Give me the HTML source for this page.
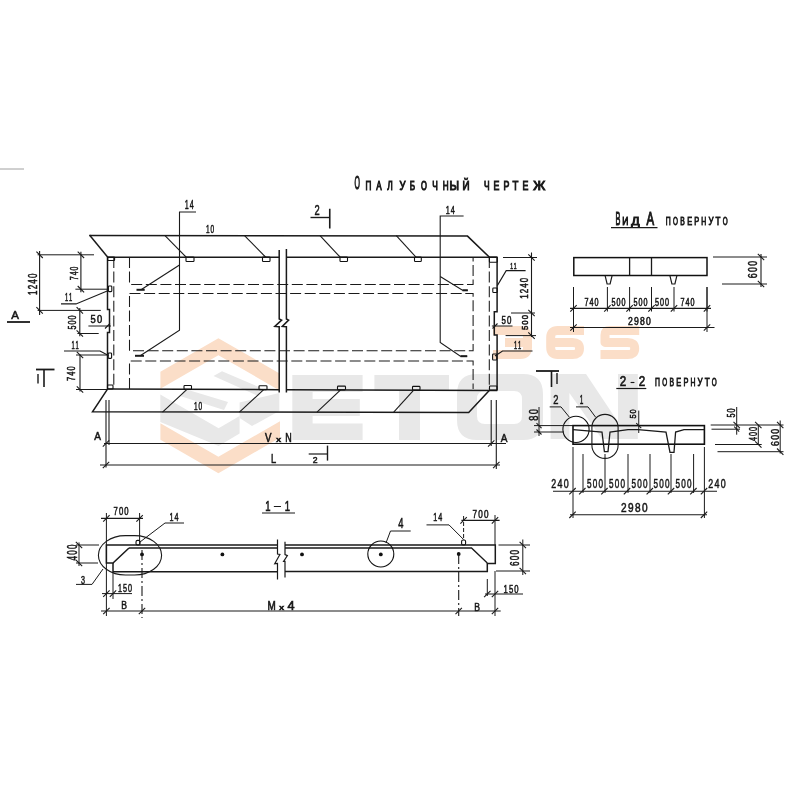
<!DOCTYPE html>
<html><head><meta charset="utf-8"><style>
html,body{margin:0;padding:0;background:#fff;width:800px;height:800px;overflow:hidden}
svg{display:block;will-change:transform}
text{font-family:"Liberation Sans",sans-serif;fill:#111}
</style></head><body>
<svg width="800" height="800" viewBox="0 0 800 800">
<rect width="800" height="800" fill="#fff"/>
<g><polygon points="160.4,371.7 218.4,338.2 280.0,373.7 280.0,390.7 218.4,355.2 160.4,388.7" fill="#fbdec8"/>
<polygon points="160.4,423.2 218.4,456.7 280.0,421.2 280.0,437.7 218.4,473.2 160.4,439.7" fill="#fbdec8"/>
<polygon points="160.3,394.5 218.6,428.2 239.6,416.1 239.6,433.5 218.6,446 160.3,422" fill="#e8e8e8"/>
<polygon points="239.6,402.5 279.3,393 279.3,411 252,426 239.6,418" fill="#e8e8e8"/>
<polygon points="222,371.3 261,388 258,396 213.5,376" fill="#e8e8e8"/>
<polygon points="185,389 228,402 224,410 180,396" fill="#e8e8e8"/>
<path d="M292.3,375 H362.6 V392 H312.6 V399 H359.8 V416 H312.6 V423.5 H362.6 V440 H292.3 Z" fill="#e8e8e8"/>
<path d="M374.4,375 H449 V391 H420 V440 H399 V391 H374.4 Z" fill="#e8e8e8"/>
<path fill-rule="evenodd" d="M477,374 H523 Q543,374 543,394 V420 Q543,440 523,440 H477 Q457,440 457,420 V394 Q457,374 477,374 Z M485,391 H514 Q522,391 522,399 V416 Q522,424 514,424 H485 Q477,424 477,416 V399 Q477,391 485,391 Z" fill="#e8e8e8"/>
<polygon points="550.6,374 586,374 618,422 618,374 637.8,374 637.8,439 602,439 569.4,393 569.4,439 550.6,439" fill="#e8e8e8"/>
<path d="M493,330.4 H520.5 Q527.5,330.4 527.5,337.4 V347.6 Q527.5,354.6 520.5,354.6 H493 M505,342.6 H527.5" fill="none" stroke="#fbdec8" stroke-width="9" stroke-linejoin="round"/>
<path d="M584,330.4 H557.7 Q550.7,330.4 550.7,337.4 V347.6 Q550.7,354.6 557.7,354.6 H572.5 Q579.5,354.6 579.5,348.5 Q579.5,342.4 572.5,342.4 H550.7" fill="none" stroke="#fbdec8" stroke-width="9" stroke-linejoin="round"/>
<path d="M639.2,330.4 H609.5 Q605,330.4 605,334.9 V342.4 H627.7 Q634.7,342.4 634.7,348.5 Q634.7,354.6 627.7,354.6 H600.5" fill="none" stroke="#fbdec8" stroke-width="9" stroke-linejoin="round"/></g>
<g stroke-linecap="butt"><text transform="translate(357.20,189.40) scale(0.399,1)" x="0" y="0" font-size="17.44" text-anchor="middle" font-weight="normal" style="stroke:#1a1a1a;stroke-width:1.10px">О</text>
<text transform="translate(368.50,189.50) scale(0.678,1)" x="0" y="0" font-size="12.06" text-anchor="middle" font-weight="normal" style="stroke:#1a1a1a;stroke-width:1.00px">П</text>
<text transform="translate(379.00,189.50) scale(0.675,1)" x="0" y="0" font-size="12.06" text-anchor="middle" font-weight="normal" style="stroke:#1a1a1a;stroke-width:1.00px">А</text>
<text transform="translate(390.00,189.50) scale(0.695,1)" x="0" y="0" font-size="12.06" text-anchor="middle" font-weight="normal" style="stroke:#1a1a1a;stroke-width:1.00px">Л</text>
<text transform="translate(402.50,189.50) scale(0.784,1)" x="0" y="0" font-size="12.06" text-anchor="middle" font-weight="normal" style="stroke:#1a1a1a;stroke-width:1.00px">У</text>
<text transform="translate(412.50,189.50) scale(0.678,1)" x="0" y="0" font-size="12.06" text-anchor="middle" font-weight="normal" style="stroke:#1a1a1a;stroke-width:1.00px">Б</text>
<text transform="translate(424.00,189.50) scale(0.627,1)" x="0" y="0" font-size="12.06" text-anchor="middle" font-weight="normal" style="stroke:#1a1a1a;stroke-width:1.00px">О</text>
<text transform="translate(435.00,189.50) scale(0.694,1)" x="0" y="0" font-size="12.06" text-anchor="middle" font-weight="normal" style="stroke:#1a1a1a;stroke-width:1.00px">Ч</text>
<text transform="translate(445.80,189.50) scale(0.675,1)" x="0" y="0" font-size="12.06" text-anchor="middle" font-weight="normal" style="stroke:#1a1a1a;stroke-width:1.00px">Н</text>
<text transform="translate(454.25,189.50) scale(0.896,1)" x="0" y="0" font-size="12.06" text-anchor="middle" font-weight="normal" style="stroke:#1a1a1a;stroke-width:1.00px">Ы</text>
<text transform="translate(466.00,189.50) scale(0.814,1)" x="0" y="0" font-size="12.06" text-anchor="middle" font-weight="normal" style="stroke:#1a1a1a;stroke-width:1.00px">Й</text>
<text transform="translate(486.75,189.50) scale(0.694,1)" x="0" y="0" font-size="12.06" text-anchor="middle" font-weight="normal" style="stroke:#1a1a1a;stroke-width:1.00px">Ч</text>
<text transform="translate(496.50,189.50) scale(0.731,1)" x="0" y="0" font-size="12.06" text-anchor="middle" font-weight="normal" style="stroke:#1a1a1a;stroke-width:1.00px">Е</text>
<text transform="translate(506.40,189.50) scale(0.731,1)" x="0" y="0" font-size="12.06" text-anchor="middle" font-weight="normal" style="stroke:#1a1a1a;stroke-width:1.00px">Р</text>
<text transform="translate(515.50,189.50) scale(0.798,1)" x="0" y="0" font-size="12.06" text-anchor="middle" font-weight="normal" style="stroke:#1a1a1a;stroke-width:1.00px">Т</text>
<text transform="translate(525.50,189.50) scale(0.731,1)" x="0" y="0" font-size="12.06" text-anchor="middle" font-weight="normal" style="stroke:#1a1a1a;stroke-width:1.00px">Е</text>
<text transform="translate(539.25,189.50) scale(1.079,1)" x="0" y="0" font-size="12.06" text-anchor="middle" font-weight="normal" style="stroke:#1a1a1a;stroke-width:1.00px">Ж</text>
<polyline points="89.5,235 107.8,257.3" fill="none" stroke="#1a1a1a" stroke-width="1.5"/>
<polyline points="89.5,235.5 467.5,236.1 489.5,257.3" fill="none" stroke="#1a1a1a" stroke-width="1.5"/>
<line x1="107.5" y1="257.3" x2="279.2" y2="257.3" stroke="#1a1a1a" stroke-width="1.5"/>
<line x1="286.4" y1="257.3" x2="497.5" y2="257.3" stroke="#1a1a1a" stroke-width="1.5"/>
<line x1="107.5" y1="389.1" x2="279.2" y2="389.7" stroke="#1a1a1a" stroke-width="1.5"/>
<line x1="286.4" y1="389.7" x2="497.3" y2="390.4" stroke="#1a1a1a" stroke-width="1.5"/>
<polyline points="107.5,389.1 92.5,411.8 468.7,412.4 489.5,390.3" fill="none" stroke="#1a1a1a" stroke-width="1.5"/>
<polyline points="107.5,257 107.5,309.5 109.5,309.5 109.5,332.5 107.5,332.5 107.5,389" fill="none" stroke="#1a1a1a" stroke-width="1.5"/>
<polyline points="497.1,257.3 497.1,311.8 494.3,311.8 494.3,335 497.1,335 497.1,390.4" fill="none" stroke="#1a1a1a" stroke-width="1.5"/>
<polyline points="279.2,250 279.2,319 281.6,320.1 274.8,326.4 279.2,326.7 279.2,392.5" fill="none" stroke="#1a1a1a" stroke-width="1.5"/>
<polyline points="286.4,249 286.4,319 288.6,320.1 282.3,326.4 286.4,326.7 286.4,392.5" fill="none" stroke="#1a1a1a" stroke-width="1.5"/>
<line x1="113.8" y1="257" x2="113.8" y2="389" stroke="#1a1a1a" stroke-width="1.05" stroke-dasharray="11,3.6"/>
<line x1="489.3" y1="257" x2="489.3" y2="389" stroke="#1a1a1a" stroke-width="1.05" stroke-dasharray="11,3.6"/>
<polyline points="129.5,257 129.5,284.5 473.1,284.5 473.1,257" fill="none" stroke="#1a1a1a" stroke-width="1.05" stroke-dasharray="11,3.6"/>
<polyline points="129.5,293.5 473.1,293.5 473.1,350.8 129.5,350.8 129.5,293.5" fill="none" stroke="#1a1a1a" stroke-width="1.05" stroke-dasharray="11,3.6"/>
<polyline points="129.5,389 129.5,361 473.1,361 473.1,389" fill="none" stroke="#1a1a1a" stroke-width="1.05" stroke-dasharray="11,3.6"/>
<rect x="107.7" y="257" width="6.8999999999999915" height="3.5" rx="0.8" fill="none" stroke="#111" stroke-width="1.1"/>
<rect x="489.4" y="257" width="7.900000000000034" height="5.300000000000011" rx="0.8" fill="none" stroke="#111" stroke-width="1.1"/>
<rect x="107.5" y="385" width="5.5" height="4" rx="0.8" fill="none" stroke="#111" stroke-width="1.1"/>
<rect x="489.5" y="386" width="7.5" height="4" rx="0.8" fill="none" stroke="#111" stroke-width="1.1"/>
<rect x="108.4" y="286" width="3.3999999999999915" height="5.600000000000023" rx="0.8" fill="none" stroke="#111" stroke-width="1.1"/>
<rect x="108.2" y="353" width="3.3999999999999915" height="5.399999999999977" rx="0.8" fill="none" stroke="#111" stroke-width="1.1"/>
<rect x="492.8" y="288" width="4.399999999999977" height="4.5" rx="0.8" fill="none" stroke="#111" stroke-width="1.1"/>
<rect x="492.6" y="354" width="4.199999999999989" height="6" rx="0.8" fill="none" stroke="#111" stroke-width="1.1"/>
<rect x="186" y="257" width="8" height="4.5" rx="0.8" fill="none" stroke="#111" stroke-width="1.1"/>
<rect x="262.5" y="257" width="7.5" height="4.5" rx="0.8" fill="none" stroke="#111" stroke-width="1.1"/>
<rect x="340" y="257" width="7.5" height="4.5" rx="0.8" fill="none" stroke="#111" stroke-width="1.1"/>
<rect x="414.5" y="257" width="6.800000000000011" height="4.5" rx="0.8" fill="none" stroke="#111" stroke-width="1.1"/>
<rect x="184" y="385.55780500000003" width="7.5" height="3.8000000000000114" rx="0.8" fill="none" stroke="#111" stroke-width="1.1"/>
<rect x="259" y="385.810555" width="8" height="3.8000000000000114" rx="0.8" fill="none" stroke="#111" stroke-width="1.1"/>
<rect x="337.5" y="386.0751" width="8.0" height="3.8000000000000114" rx="0.8" fill="none" stroke="#111" stroke-width="1.1"/>
<rect x="412.5" y="386.32785" width="7.5" height="3.8000000000000114" rx="0.8" fill="none" stroke="#111" stroke-width="1.1"/>
<line x1="165" y1="235.6" x2="186.5" y2="257.5" stroke="#1a1a1a" stroke-width="1.1"/>
<line x1="244.5" y1="235.6" x2="266" y2="257.5" stroke="#1a1a1a" stroke-width="1.1"/>
<line x1="320" y1="235.6" x2="340.5" y2="257.5" stroke="#1a1a1a" stroke-width="1.1"/>
<line x1="396.3" y1="235.6" x2="416.3" y2="257.5" stroke="#1a1a1a" stroke-width="1.1"/>
<line x1="162.5" y1="412.2" x2="187" y2="389.36791500000004" stroke="#1a1a1a" stroke-width="1.1"/>
<line x1="239.4" y1="412.2" x2="263.7" y2="389.626394" stroke="#1a1a1a" stroke-width="1.1"/>
<line x1="317" y1="412.2" x2="340.6" y2="389.88554700000003" stroke="#1a1a1a" stroke-width="1.1"/>
<line x1="393.7" y1="412.2" x2="413.7" y2="390.13189400000005" stroke="#1a1a1a" stroke-width="1.1"/>
<text transform="translate(210.00,229.50) scale(0.594,1)" x="-3.79 3.79" y="3.75" font-size="10.90" text-anchor="middle" font-weight="normal" style="stroke:#1a1a1a;stroke-width:0.55px">10</text>
<text transform="translate(198.00,406.00) scale(0.594,1)" x="-3.79 3.79" y="3.75" font-size="10.90" text-anchor="middle" font-weight="normal" style="stroke:#1a1a1a;stroke-width:0.55px">10</text>
<polyline points="196,212 179.5,212 179.5,330.2 140.2,355.7" fill="none" stroke="#1a1a1a" stroke-width="1.1"/>
<line x1="179.5" y1="265" x2="141" y2="289.7" stroke="#1a1a1a" stroke-width="1.1"/>
<line x1="136.5" y1="289.8" x2="144.7" y2="289.8" stroke="#1a1a1a" stroke-width="2"/>
<line x1="135" y1="355.8" x2="144" y2="355.8" stroke="#1a1a1a" stroke-width="2"/>
<text transform="translate(189.20,204.80) scale(0.550,1)" x="-4.55 4.55" y="4.50" font-size="13.08" text-anchor="middle" font-weight="normal" style="stroke:#1a1a1a;stroke-width:0.55px">14</text>
<polyline points="463.6,216 440.2,216 440.2,342.4 460.4,356.2 467.2,356.2" fill="none" stroke="#1a1a1a" stroke-width="1.1"/>
<polyline points="440.2,276.5 462.5,290.3 467.8,290.3" fill="none" stroke="#1a1a1a" stroke-width="1.1"/>
<line x1="460.5" y1="356.2" x2="467.2" y2="356.2" stroke="#1a1a1a" stroke-width="2"/>
<line x1="462.5" y1="290.3" x2="467.8" y2="290.3" stroke="#1a1a1a" stroke-width="2"/>
<text transform="translate(450.30,209.50) scale(0.619,1)" x="-4.04 4.04" y="4.00" font-size="11.63" text-anchor="middle" font-weight="normal" style="stroke:#1a1a1a;stroke-width:0.55px">14</text>
<text transform="translate(317.00,210.10) scale(0.657,1)" x="0.00" y="4.90" font-size="14.24" text-anchor="middle" font-weight="normal" style="stroke:#1a1a1a;stroke-width:0.55px">2</text>
<line x1="310.5" y1="217.5" x2="330" y2="217.5" stroke="#1a1a1a" stroke-width="1.4"/>
<line x1="329.75" y1="208.75" x2="329.75" y2="228.5" stroke="#1a1a1a" stroke-width="1.6"/>
<line x1="36" y1="369.5" x2="54.5" y2="369.5" stroke="#1a1a1a" stroke-width="1.8"/>
<line x1="44" y1="369.5" x2="44" y2="387" stroke="#1a1a1a" stroke-width="1.6"/>
<line x1="38" y1="374" x2="38" y2="383.5" stroke="#1a1a1a" stroke-width="1.4"/>
<line x1="536" y1="371" x2="559" y2="371" stroke="#1a1a1a" stroke-width="1.8"/>
<line x1="551.5" y1="371" x2="551.5" y2="387" stroke="#1a1a1a" stroke-width="1.6"/>
<line x1="557" y1="373" x2="557" y2="384" stroke="#1a1a1a" stroke-width="1.4"/>
<line x1="39.6" y1="251" x2="39.6" y2="315" stroke="#1a1a1a" stroke-width="1.1"/>
<line x1="37.6" y1="254.8" x2="94" y2="254.8" stroke="#1a1a1a" stroke-width="1.0"/>
<line x1="37.6" y1="310.4" x2="100.8" y2="310.4" stroke="#1a1a1a" stroke-width="1.0"/>
<line x1="36.4" y1="251.60000000000002" x2="42.800000000000004" y2="258.0" stroke="#1a1a1a" stroke-width="1.1"/>
<line x1="36.4" y1="307.2" x2="42.800000000000004" y2="313.59999999999997" stroke="#1a1a1a" stroke-width="1.1"/>
<text transform="translate(32.50,284.30) rotate(-90) scale(0.679,1)" x="-12.43 -4.14 4.14 12.43" y="4.10" font-size="11.92" text-anchor="middle" font-weight="normal" style="stroke:#1a1a1a;stroke-width:0.55px">1240</text>
<line x1="80.9" y1="251.7" x2="80.9" y2="292.2" stroke="#1a1a1a" stroke-width="1.1"/>
<line x1="75.4" y1="289.2" x2="108" y2="289.2" stroke="#1a1a1a" stroke-width="1.0"/>
<line x1="77.7" y1="251.60000000000002" x2="84.10000000000001" y2="258.0" stroke="#1a1a1a" stroke-width="1.1"/>
<line x1="77.7" y1="286.0" x2="84.10000000000001" y2="292.4" stroke="#1a1a1a" stroke-width="1.1"/>
<text transform="translate(73.60,273.40) rotate(-90) scale(0.598,1)" x="-8.08 0.00 8.08" y="4.00" font-size="11.63" text-anchor="middle" font-weight="normal" style="stroke:#1a1a1a;stroke-width:0.55px">740</text>
<text transform="translate(68.50,297.80) scale(0.566,1)" x="-3.54 3.54" y="3.50" font-size="10.17" text-anchor="middle" font-weight="normal" style="stroke:#1a1a1a;stroke-width:0.55px">11</text>
<polyline points="61,303.9 76,303.9 109,290.2" fill="none" stroke="#1a1a1a" stroke-width="1.1"/>
<line x1="79.8" y1="308" x2="79.8" y2="336.2" stroke="#1a1a1a" stroke-width="1.1"/>
<line x1="77.4" y1="333.5" x2="98.7" y2="333.5" stroke="#1a1a1a" stroke-width="1.0"/>
<line x1="76.6" y1="307.2" x2="83.0" y2="313.59999999999997" stroke="#1a1a1a" stroke-width="1.1"/>
<line x1="76.6" y1="330.3" x2="83.0" y2="336.7" stroke="#1a1a1a" stroke-width="1.1"/>
<text transform="translate(72.25,322.50) rotate(-90) scale(0.660,1)" x="-7.58 0.00 7.58" y="3.75" font-size="10.90" text-anchor="middle" font-weight="normal" style="stroke:#1a1a1a;stroke-width:0.55px">500</text>
<text transform="translate(96.30,319.80) scale(0.919,1)" x="-3.54 3.54" y="3.50" font-size="10.17" text-anchor="middle" font-weight="normal" style="stroke:#1a1a1a;stroke-width:0.55px">50</text>
<line x1="88.4" y1="326" x2="111" y2="326" stroke="#1a1a1a" stroke-width="1.0"/>
<line x1="105.0" y1="328.5" x2="110.0" y2="323.5" stroke="#1a1a1a" stroke-width="1.1"/>
<text transform="translate(75.00,345.00) scale(0.566,1)" x="-3.54 3.54" y="3.50" font-size="10.17" text-anchor="middle" font-weight="normal" style="stroke:#1a1a1a;stroke-width:0.55px">11</text>
<polyline points="64,351 100,351 108.5,355.5" fill="none" stroke="#1a1a1a" stroke-width="1.1"/>
<line x1="80" y1="354.5" x2="80" y2="391.5" stroke="#1a1a1a" stroke-width="1.1"/>
<line x1="76" y1="355" x2="108" y2="355" stroke="#1a1a1a" stroke-width="1.0"/>
<line x1="76" y1="389.5" x2="108" y2="389.5" stroke="#1a1a1a" stroke-width="1.0"/>
<line x1="76.8" y1="351.8" x2="83.2" y2="358.2" stroke="#1a1a1a" stroke-width="1.1"/>
<line x1="76.8" y1="386.3" x2="83.2" y2="392.7" stroke="#1a1a1a" stroke-width="1.1"/>
<text transform="translate(71.00,373.70) rotate(-90) scale(0.682,1)" x="-7.58 0.00 7.58" y="3.75" font-size="10.90" text-anchor="middle" font-weight="normal" style="stroke:#1a1a1a;stroke-width:0.55px">740</text>
<text transform="translate(15.00,315.00) scale(0.990,1)" x="0.00" y="4.00" font-size="11.63" text-anchor="middle" font-weight="normal" style="stroke:#1a1a1a;stroke-width:0.55px">A</text>
<line x1="7" y1="322" x2="30" y2="322" stroke="#1a1a1a" stroke-width="1.8"/>
<line x1="531.5" y1="252.5" x2="531.5" y2="337" stroke="#1a1a1a" stroke-width="1.1"/>
<line x1="503" y1="257.5" x2="537" y2="257.5" stroke="#1a1a1a" stroke-width="1.0"/>
<line x1="511" y1="313" x2="535" y2="313" stroke="#1a1a1a" stroke-width="1.0"/>
<line x1="505.6" y1="335.6" x2="536" y2="335.6" stroke="#1a1a1a" stroke-width="1.0"/>
<line x1="528.3" y1="254.3" x2="534.7" y2="260.7" stroke="#1a1a1a" stroke-width="1.1"/>
<line x1="528.3" y1="309.8" x2="534.7" y2="316.2" stroke="#1a1a1a" stroke-width="1.1"/>
<line x1="528.3" y1="332.40000000000003" x2="534.7" y2="338.8" stroke="#1a1a1a" stroke-width="1.1"/>
<text transform="translate(524.70,288.40) rotate(-90) scale(0.726,1)" x="-11.36 -3.79 3.79 11.36" y="3.75" font-size="10.90" text-anchor="middle" font-weight="normal" style="stroke:#1a1a1a;stroke-width:0.55px">1240</text>
<text transform="translate(524.75,322.50) rotate(-90) scale(0.880,1)" x="-6.06 0.00 6.06" y="3.00" font-size="8.72" text-anchor="middle" font-weight="normal" style="stroke:#1a1a1a;stroke-width:0.55px">500</text>
<text transform="translate(506.50,320.60) scale(0.726,1)" x="-3.79 3.79" y="3.75" font-size="10.90" text-anchor="middle" font-weight="normal" style="stroke:#1a1a1a;stroke-width:0.55px">50</text>
<line x1="491.9" y1="326" x2="512.5" y2="326" stroke="#1a1a1a" stroke-width="1.0"/>
<line x1="492.5" y1="328.5" x2="497.5" y2="323.5" stroke="#1a1a1a" stroke-width="1.1"/>
<text transform="translate(513.50,265.50) scale(0.577,1)" x="-3.03 3.03" y="3.00" font-size="8.72" text-anchor="middle" font-weight="normal" style="stroke:#1a1a1a;stroke-width:0.55px">11</text>
<polyline points="525.6,270.6 506.2,270.6 497.3,285.6" fill="none" stroke="#1a1a1a" stroke-width="1.1"/>
<text transform="translate(517.50,345.00) scale(0.566,1)" x="-3.54 3.54" y="3.50" font-size="10.17" text-anchor="middle" font-weight="normal" style="stroke:#1a1a1a;stroke-width:0.55px">11</text>
<polyline points="532.5,351 502.5,351 495,356" fill="none" stroke="#1a1a1a" stroke-width="1.1"/>
<line x1="106" y1="400" x2="106" y2="467.5" stroke="#1a1a1a" stroke-width="1.1"/>
<line x1="109" y1="400" x2="109" y2="445" stroke="#1a1a1a" stroke-width="1.1"/>
<line x1="104" y1="443.5" x2="506" y2="443.5" stroke="#1a1a1a" stroke-width="1.1"/>
<line x1="100" y1="465" x2="500" y2="465" stroke="#1a1a1a" stroke-width="1.1"/>
<line x1="491.2" y1="400" x2="491.2" y2="446" stroke="#1a1a1a" stroke-width="1.1"/>
<line x1="496.3" y1="400" x2="496.3" y2="469" stroke="#1a1a1a" stroke-width="1.1"/>
<line x1="102.8" y1="446.7" x2="109.2" y2="440.3" stroke="#1a1a1a" stroke-width="1.1"/>
<line x1="488.0" y1="446.7" x2="494.4" y2="440.3" stroke="#1a1a1a" stroke-width="1.1"/>
<line x1="102.8" y1="468.2" x2="109.2" y2="461.8" stroke="#1a1a1a" stroke-width="1.1"/>
<line x1="493.1" y1="468.2" x2="499.5" y2="461.8" stroke="#1a1a1a" stroke-width="1.1"/>
<text transform="translate(97.50,436.00) scale(0.866,1)" x="0.00" y="4.00" font-size="11.63" text-anchor="middle" font-weight="normal" style="stroke:#1a1a1a;stroke-width:0.55px">A</text>
<text transform="translate(504.00,437.50) scale(0.866,1)" x="0.00" y="4.00" font-size="11.63" text-anchor="middle" font-weight="normal" style="stroke:#1a1a1a;stroke-width:0.55px">A</text>
<text transform="translate(268.30,441.90) scale(0.710,1)" x="0" y="0" font-size="13.66" text-anchor="middle" font-weight="normal" style="stroke:#1a1a1a;stroke-width:0.70px">V</text>
<text transform="translate(278.70,441.90) scale(1.191,1)" x="0" y="0" font-size="7.99" text-anchor="middle" font-weight="normal" style="stroke:#1a1a1a;stroke-width:0.70px">x</text>
<text transform="translate(288.60,441.90) scale(0.656,1)" x="0" y="0" font-size="13.66" text-anchor="middle" font-weight="normal" style="stroke:#1a1a1a;stroke-width:0.70px">N</text>
<text transform="translate(273.70,458.50) scale(0.692,1)" x="0.00" y="4.65" font-size="13.52" text-anchor="middle" font-weight="normal" style="stroke:#1a1a1a;stroke-width:0.55px">L</text>
<text transform="translate(315.20,460.00) scale(0.914,1)" x="0.00" y="3.25" font-size="9.45" text-anchor="middle" font-weight="normal" style="stroke:#1a1a1a;stroke-width:0.55px">2</text>
<line x1="308.7" y1="454" x2="327.5" y2="454" stroke="#1a1a1a" stroke-width="1.2"/>
<line x1="327.5" y1="445.6" x2="327.5" y2="460.6" stroke="#1a1a1a" stroke-width="1.4"/>
<text transform="translate(617.90,225.10) scale(0.388,1)" x="0" y="0" font-size="18.90" text-anchor="middle" font-weight="normal" style="stroke:#1a1a1a;stroke-width:1.10px">В</text>
<text transform="translate(625.40,225.10) scale(0.732,1)" x="0" y="0" font-size="11.63" text-anchor="middle" font-weight="normal" style="stroke:#1a1a1a;stroke-width:1.00px">И</text>
<text transform="translate(635.40,225.10) scale(1.065,1)" x="0" y="0" font-size="11.63" text-anchor="middle" font-weight="normal" style="stroke:#1a1a1a;stroke-width:1.00px">Д</text>
<text transform="translate(650.30,225.10) scale(0.604,1)" x="0" y="0" font-size="18.90" text-anchor="middle" font-weight="normal" style="stroke:#1a1a1a;stroke-width:1.10px">А</text>
<text transform="translate(668.30,225.20) scale(0.676,1)" x="0" y="0" font-size="10.17" text-anchor="middle" font-weight="normal" style="stroke:#1a1a1a;stroke-width:0.80px">П</text>
<text transform="translate(675.40,225.20) scale(0.624,1)" x="0" y="0" font-size="10.17" text-anchor="middle" font-weight="normal" style="stroke:#1a1a1a;stroke-width:0.80px">О</text>
<text transform="translate(682.50,225.20) scale(0.672,1)" x="0" y="0" font-size="10.17" text-anchor="middle" font-weight="normal" style="stroke:#1a1a1a;stroke-width:0.80px">В</text>
<text transform="translate(689.60,225.20) scale(0.728,1)" x="0" y="0" font-size="10.17" text-anchor="middle" font-weight="normal" style="stroke:#1a1a1a;stroke-width:0.80px">Е</text>
<text transform="translate(696.70,225.20) scale(0.728,1)" x="0" y="0" font-size="10.17" text-anchor="middle" font-weight="normal" style="stroke:#1a1a1a;stroke-width:0.80px">Р</text>
<text transform="translate(703.80,225.20) scale(0.672,1)" x="0" y="0" font-size="10.17" text-anchor="middle" font-weight="normal" style="stroke:#1a1a1a;stroke-width:0.80px">Н</text>
<text transform="translate(710.90,225.20) scale(0.781,1)" x="0" y="0" font-size="10.17" text-anchor="middle" font-weight="normal" style="stroke:#1a1a1a;stroke-width:0.80px">У</text>
<text transform="translate(718.00,225.20) scale(0.795,1)" x="0" y="0" font-size="10.17" text-anchor="middle" font-weight="normal" style="stroke:#1a1a1a;stroke-width:0.80px">Т</text>
<text transform="translate(725.10,225.20) scale(0.624,1)" x="0" y="0" font-size="10.17" text-anchor="middle" font-weight="normal" style="stroke:#1a1a1a;stroke-width:0.80px">О</text>
<line x1="611" y1="227.6" x2="657.5" y2="227.6" stroke="#1a1a1a" stroke-width="1.2"/>
<rect x="573.8" y="257.6" width="133.20000000000005" height="17.899999999999977" rx="0" fill="none" stroke="#111" stroke-width="1.5"/>
<line x1="629.6" y1="257.6" x2="629.6" y2="275.5" stroke="#1a1a1a" stroke-width="1.3"/>
<line x1="651.5" y1="257.6" x2="651.5" y2="275.5" stroke="#1a1a1a" stroke-width="1.3"/>
<polyline points="605.1,275.6 607.1,284 610.1,284 612.1,275.6" fill="none" stroke="#1a1a1a" stroke-width="1.2"/>
<polyline points="669.9,275.6 671.9,284 674.9,284 676.9,275.6" fill="none" stroke="#1a1a1a" stroke-width="1.2"/>
<line x1="573.5" y1="287" x2="573.5" y2="311.5" stroke="#1a1a1a" stroke-width="1.0"/>
<line x1="570.3" y1="311.59999999999997" x2="576.7" y2="305.2" stroke="#1a1a1a" stroke-width="1.1"/>
<line x1="607.4" y1="287" x2="607.4" y2="311.5" stroke="#1a1a1a" stroke-width="1.0"/>
<line x1="604.1999999999999" y1="311.59999999999997" x2="610.6" y2="305.2" stroke="#1a1a1a" stroke-width="1.1"/>
<line x1="629.6" y1="287" x2="629.6" y2="311.5" stroke="#1a1a1a" stroke-width="1.0"/>
<line x1="626.4" y1="311.59999999999997" x2="632.8000000000001" y2="305.2" stroke="#1a1a1a" stroke-width="1.1"/>
<line x1="651.5" y1="287" x2="651.5" y2="311.5" stroke="#1a1a1a" stroke-width="1.0"/>
<line x1="648.3" y1="311.59999999999997" x2="654.7" y2="305.2" stroke="#1a1a1a" stroke-width="1.1"/>
<line x1="674" y1="287" x2="674" y2="311.5" stroke="#1a1a1a" stroke-width="1.0"/>
<line x1="670.8" y1="311.59999999999997" x2="677.2" y2="305.2" stroke="#1a1a1a" stroke-width="1.1"/>
<line x1="707" y1="287" x2="707" y2="311.5" stroke="#1a1a1a" stroke-width="1.0"/>
<line x1="703.8" y1="311.59999999999997" x2="710.2" y2="305.2" stroke="#1a1a1a" stroke-width="1.1"/>
<line x1="573.5" y1="332" x2="573.5" y2="287" stroke="#1a1a1a" stroke-width="1.0"/>
<line x1="707" y1="332" x2="707" y2="287" stroke="#1a1a1a" stroke-width="1.0"/>
<line x1="570" y1="308.4" x2="711" y2="308.4" stroke="#1a1a1a" stroke-width="1.1"/>
<line x1="570" y1="327.5" x2="714.5" y2="327.5" stroke="#1a1a1a" stroke-width="1.1"/>
<line x1="570.3" y1="330.7" x2="576.7" y2="324.3" stroke="#1a1a1a" stroke-width="1.1"/>
<line x1="703.8" y1="330.7" x2="710.2" y2="324.3" stroke="#1a1a1a" stroke-width="1.1"/>
<text transform="translate(591.50,302.00) scale(0.707,1)" x="-7.07 0.00 7.07" y="3.50" font-size="10.17" text-anchor="middle" font-weight="normal" style="stroke:#1a1a1a;stroke-width:0.55px">740</text>
<text transform="translate(618.50,302.00) scale(0.707,1)" x="-7.07 0.00 7.07" y="3.50" font-size="10.17" text-anchor="middle" font-weight="normal" style="stroke:#1a1a1a;stroke-width:0.55px">500</text>
<text transform="translate(640.40,302.00) scale(0.707,1)" x="-7.07 0.00 7.07" y="3.50" font-size="10.17" text-anchor="middle" font-weight="normal" style="stroke:#1a1a1a;stroke-width:0.55px">500</text>
<text transform="translate(662.00,302.00) scale(0.707,1)" x="-7.07 0.00 7.07" y="3.50" font-size="10.17" text-anchor="middle" font-weight="normal" style="stroke:#1a1a1a;stroke-width:0.55px">500</text>
<text transform="translate(687.50,302.00) scale(0.707,1)" x="-7.07 0.00 7.07" y="3.50" font-size="10.17" text-anchor="middle" font-weight="normal" style="stroke:#1a1a1a;stroke-width:0.55px">740</text>
<text transform="translate(639.50,321.50) scale(0.849,1)" x="-10.61 -3.54 3.54 10.61" y="3.50" font-size="10.17" text-anchor="middle" font-weight="normal" style="stroke:#1a1a1a;stroke-width:0.55px">2980</text>
<line x1="761" y1="254" x2="761" y2="287" stroke="#1a1a1a" stroke-width="1.1"/>
<line x1="713" y1="257" x2="767" y2="257" stroke="#1a1a1a" stroke-width="1.0"/>
<line x1="722" y1="284" x2="767" y2="284" stroke="#1a1a1a" stroke-width="1.0"/>
<line x1="757.8" y1="253.8" x2="764.2" y2="260.2" stroke="#1a1a1a" stroke-width="1.1"/>
<line x1="757.8" y1="280.8" x2="764.2" y2="287.2" stroke="#1a1a1a" stroke-width="1.1"/>
<text transform="translate(753.20,269.50) rotate(-90) scale(0.718,1)" x="-8.59 0.00 8.59" y="4.25" font-size="12.35" text-anchor="middle" font-weight="normal" style="stroke:#1a1a1a;stroke-width:0.55px">600</text>
<text transform="translate(623.00,386.30) scale(0.800,1)" x="0" y="0" font-size="14.53" text-anchor="middle" font-weight="normal" style="stroke:#1a1a1a;stroke-width:0.70px">2</text>
<text transform="translate(632.60,383.50) scale(1.823,1)" x="0" y="0" font-size="5.81" text-anchor="middle" font-weight="normal" style="stroke:#1a1a1a;stroke-width:0.70px">-</text>
<text transform="translate(642.00,386.30) scale(0.800,1)" x="0" y="0" font-size="14.53" text-anchor="middle" font-weight="normal" style="stroke:#1a1a1a;stroke-width:0.70px">2</text>
<text transform="translate(657.50,386.30) scale(0.631,1)" x="0" y="0" font-size="10.90" text-anchor="middle" font-weight="normal" style="stroke:#1a1a1a;stroke-width:0.80px">П</text>
<text transform="translate(664.60,386.30) scale(0.583,1)" x="0" y="0" font-size="10.90" text-anchor="middle" font-weight="normal" style="stroke:#1a1a1a;stroke-width:0.80px">О</text>
<text transform="translate(671.70,386.30) scale(0.628,1)" x="0" y="0" font-size="10.90" text-anchor="middle" font-weight="normal" style="stroke:#1a1a1a;stroke-width:0.80px">В</text>
<text transform="translate(678.80,386.30) scale(0.680,1)" x="0" y="0" font-size="10.90" text-anchor="middle" font-weight="normal" style="stroke:#1a1a1a;stroke-width:0.80px">Е</text>
<text transform="translate(685.90,386.30) scale(0.680,1)" x="0" y="0" font-size="10.90" text-anchor="middle" font-weight="normal" style="stroke:#1a1a1a;stroke-width:0.80px">Р</text>
<text transform="translate(693.00,386.30) scale(0.628,1)" x="0" y="0" font-size="10.90" text-anchor="middle" font-weight="normal" style="stroke:#1a1a1a;stroke-width:0.80px">Н</text>
<text transform="translate(700.10,386.30) scale(0.729,1)" x="0" y="0" font-size="10.90" text-anchor="middle" font-weight="normal" style="stroke:#1a1a1a;stroke-width:0.80px">У</text>
<text transform="translate(707.20,386.30) scale(0.742,1)" x="0" y="0" font-size="10.90" text-anchor="middle" font-weight="normal" style="stroke:#1a1a1a;stroke-width:0.80px">Т</text>
<text transform="translate(714.30,386.30) scale(0.583,1)" x="0" y="0" font-size="10.90" text-anchor="middle" font-weight="normal" style="stroke:#1a1a1a;stroke-width:0.80px">О</text>
<line x1="616.3" y1="388.5" x2="646.3" y2="388.5" stroke="#1a1a1a" stroke-width="1.2"/>
<rect x="573" y="425.6" width="131.39999999999998" height="18.599999999999966" rx="0" fill="none" stroke="#111" stroke-width="1.6"/>
<polyline points="573,429.6 602,432 604.4,451.6 608,451.6 610,432 628,429.6 638,429.6 666,432 670,452.4 674,452.4 675.6,432 684,429.6 704.4,429.6" fill="none" stroke="#1a1a1a" stroke-width="1.3"/>
<circle cx="576" cy="429.4" r="13.1" fill="none" stroke="#111" stroke-width="1.1"/>
<rect x="591.9" y="414.4" width="26.2" height="44" rx="13.1" fill="none" stroke="#1a1a1a" stroke-width="1.1"/>
<line x1="573" y1="447" x2="573" y2="518" stroke="#1a1a1a" stroke-width="1.0"/>
<line x1="583" y1="454" x2="583" y2="493" stroke="#1a1a1a" stroke-width="1.0"/>
<line x1="605" y1="454" x2="605" y2="493" stroke="#1a1a1a" stroke-width="1.0"/>
<line x1="628" y1="454" x2="628" y2="493" stroke="#1a1a1a" stroke-width="1.0"/>
<line x1="650" y1="454" x2="650" y2="493" stroke="#1a1a1a" stroke-width="1.0"/>
<line x1="671" y1="454" x2="671" y2="493" stroke="#1a1a1a" stroke-width="1.0"/>
<line x1="693.6" y1="454" x2="693.6" y2="493" stroke="#1a1a1a" stroke-width="1.0"/>
<line x1="704.4" y1="447" x2="704.4" y2="518" stroke="#1a1a1a" stroke-width="1.0"/>
<line x1="553" y1="491.2" x2="717" y2="491.2" stroke="#1a1a1a" stroke-width="1.1"/>
<line x1="569.3" y1="494.4" x2="575.7" y2="488.0" stroke="#1a1a1a" stroke-width="1.1"/>
<line x1="579.0999999999999" y1="494.4" x2="585.5" y2="488.0" stroke="#1a1a1a" stroke-width="1.1"/>
<line x1="601.1999999999999" y1="494.4" x2="607.6" y2="488.0" stroke="#1a1a1a" stroke-width="1.1"/>
<line x1="623.8" y1="494.4" x2="630.2" y2="488.0" stroke="#1a1a1a" stroke-width="1.1"/>
<line x1="646.5999999999999" y1="494.4" x2="653.0" y2="488.0" stroke="#1a1a1a" stroke-width="1.1"/>
<line x1="667.8" y1="494.4" x2="674.2" y2="488.0" stroke="#1a1a1a" stroke-width="1.1"/>
<line x1="690.1999999999999" y1="494.4" x2="696.6" y2="488.0" stroke="#1a1a1a" stroke-width="1.1"/>
<line x1="700.8" y1="494.4" x2="707.2" y2="488.0" stroke="#1a1a1a" stroke-width="1.1"/>
<text transform="translate(560.00,483.50) scale(0.678,1)" x="-9.09 0.00 9.09" y="4.50" font-size="13.08" text-anchor="middle" font-weight="normal" style="stroke:#1a1a1a;stroke-width:0.55px">240</text>
<text transform="translate(595.00,483.50) scale(0.623,1)" x="-9.09 0.00 9.09" y="4.50" font-size="13.08" text-anchor="middle" font-weight="normal" style="stroke:#1a1a1a;stroke-width:0.55px">500</text>
<text transform="translate(617.00,483.50) scale(0.623,1)" x="-9.09 0.00 9.09" y="4.50" font-size="13.08" text-anchor="middle" font-weight="normal" style="stroke:#1a1a1a;stroke-width:0.55px">500</text>
<text transform="translate(639.50,483.50) scale(0.623,1)" x="-9.09 0.00 9.09" y="4.50" font-size="13.08" text-anchor="middle" font-weight="normal" style="stroke:#1a1a1a;stroke-width:0.55px">500</text>
<text transform="translate(661.50,483.50) scale(0.623,1)" x="-9.09 0.00 9.09" y="4.50" font-size="13.08" text-anchor="middle" font-weight="normal" style="stroke:#1a1a1a;stroke-width:0.55px">500</text>
<text transform="translate(683.50,483.50) scale(0.623,1)" x="-9.09 0.00 9.09" y="4.50" font-size="13.08" text-anchor="middle" font-weight="normal" style="stroke:#1a1a1a;stroke-width:0.55px">500</text>
<text transform="translate(717.00,483.50) scale(0.678,1)" x="-9.09 0.00 9.09" y="4.50" font-size="13.08" text-anchor="middle" font-weight="normal" style="stroke:#1a1a1a;stroke-width:0.55px">240</text>
<line x1="570" y1="514.8" x2="707" y2="514.8" stroke="#1a1a1a" stroke-width="1.1"/>
<line x1="569.3" y1="518.0" x2="575.7" y2="511.59999999999997" stroke="#1a1a1a" stroke-width="1.1"/>
<line x1="700.8" y1="518.0" x2="707.2" y2="511.59999999999997" stroke="#1a1a1a" stroke-width="1.1"/>
<text transform="translate(634.40,508.00) scale(0.815,1)" x="-12.88 -4.29 4.29 12.88" y="4.25" font-size="12.35" text-anchor="middle" font-weight="normal" style="stroke:#1a1a1a;stroke-width:0.55px">2980</text>
<text transform="translate(555.80,399.40) scale(0.692,1)" x="0.00" y="4.65" font-size="13.52" text-anchor="middle" font-weight="normal" style="stroke:#1a1a1a;stroke-width:0.55px">2</text>
<polyline points="549.7,406.9 561,406.9 569.4,417.2" fill="none" stroke="#1a1a1a" stroke-width="1.0"/>
<text transform="translate(581.50,399.40) scale(0.479,1)" x="0.00" y="4.65" font-size="13.52" text-anchor="middle" font-weight="normal" style="stroke:#1a1a1a;stroke-width:0.55px">1</text>
<polyline points="576,406.9 588,406.9 595.6,417.2" fill="none" stroke="#1a1a1a" stroke-width="1.0"/>
<text transform="translate(533.00,415.00) rotate(-90) scale(0.715,1)" x="-4.55 4.55" y="4.50" font-size="13.08" text-anchor="middle" font-weight="normal" style="stroke:#1a1a1a;stroke-width:0.55px">80</text>
<line x1="534" y1="425.6" x2="573" y2="425.6" stroke="#1a1a1a" stroke-width="1.0"/>
<line x1="534" y1="432" x2="564" y2="432" stroke="#1a1a1a" stroke-width="1.0"/>
<line x1="539" y1="407" x2="539" y2="436" stroke="#1a1a1a" stroke-width="1.0"/>
<line x1="536.5" y1="423.1" x2="541.5" y2="428.1" stroke="#1a1a1a" stroke-width="1.1"/>
<line x1="536.5" y1="429.5" x2="541.5" y2="434.5" stroke="#1a1a1a" stroke-width="1.1"/>
<text transform="translate(632.70,413.90) rotate(-90) scale(0.772,1)" x="-3.33 3.33" y="3.30" font-size="9.59" text-anchor="middle" font-weight="normal" style="stroke:#1a1a1a;stroke-width:0.55px">50</text>
<line x1="638.75" y1="410.6" x2="638.75" y2="433" stroke="#1a1a1a" stroke-width="1.0"/>
<line x1="636.25" y1="423.1" x2="641.25" y2="428.1" stroke="#1a1a1a" stroke-width="1.1"/>
<line x1="710.7" y1="425" x2="783.5" y2="425" stroke="#1a1a1a" stroke-width="1.0"/>
<line x1="711.5" y1="429.2" x2="740" y2="429.2" stroke="#1a1a1a" stroke-width="1.0"/>
<line x1="715" y1="444.5" x2="761.7" y2="444.5" stroke="#1a1a1a" stroke-width="1.0"/>
<line x1="717.5" y1="451.7" x2="783.5" y2="451.7" stroke="#1a1a1a" stroke-width="1.0"/>
<line x1="736.7" y1="407" x2="736.7" y2="434.7" stroke="#1a1a1a" stroke-width="1.0"/>
<line x1="733.5" y1="421.8" x2="739.9000000000001" y2="428.2" stroke="#1a1a1a" stroke-width="1.1"/>
<line x1="734.2" y1="426.7" x2="739.2" y2="431.7" stroke="#1a1a1a" stroke-width="1.1"/>
<line x1="758.3" y1="425" x2="758.3" y2="444.5" stroke="#1a1a1a" stroke-width="1.0"/>
<line x1="755.0999999999999" y1="421.8" x2="761.5" y2="428.2" stroke="#1a1a1a" stroke-width="1.1"/>
<line x1="755.0999999999999" y1="441.3" x2="761.5" y2="447.7" stroke="#1a1a1a" stroke-width="1.1"/>
<line x1="780.2" y1="420.5" x2="780.2" y2="453.5" stroke="#1a1a1a" stroke-width="1.0"/>
<line x1="777.0" y1="421.8" x2="783.4000000000001" y2="428.2" stroke="#1a1a1a" stroke-width="1.1"/>
<line x1="777.0" y1="448.5" x2="783.4000000000001" y2="454.9" stroke="#1a1a1a" stroke-width="1.1"/>
<text transform="translate(731.00,413.00) rotate(-90) scale(0.707,1)" x="-3.54 3.54" y="3.50" font-size="10.17" text-anchor="middle" font-weight="normal" style="stroke:#1a1a1a;stroke-width:0.55px">50</text>
<text transform="translate(753.50,434.00) rotate(-90) scale(0.707,1)" x="-7.07 0.00 7.07" y="3.50" font-size="10.17" text-anchor="middle" font-weight="normal" style="stroke:#1a1a1a;stroke-width:0.55px">400</text>
<text transform="translate(775.00,437.40) rotate(-90) scale(0.763,1)" x="-8.08 0.00 8.08" y="4.00" font-size="11.63" text-anchor="middle" font-weight="normal" style="stroke:#1a1a1a;stroke-width:0.55px">600</text>
<text transform="translate(268.00,511.00) scale(0.624,1)" x="0" y="0" font-size="15.26" text-anchor="middle" font-weight="normal" style="stroke:#1a1a1a;stroke-width:0.70px">1</text>
<text transform="translate(277.50,507.00) scale(4.051,1)" x="0" y="0" font-size="4.36" text-anchor="middle" font-weight="normal" style="stroke:#1a1a1a;stroke-width:0.70px">-</text>
<text transform="translate(287.50,511.00) scale(0.624,1)" x="0" y="0" font-size="15.26" text-anchor="middle" font-weight="normal" style="stroke:#1a1a1a;stroke-width:0.70px">1</text>
<line x1="262" y1="513" x2="295" y2="513" stroke="#1a1a1a" stroke-width="1.2"/>
<polyline points="129,548 113,563 106.4,563 106.4,545 277.6,545" fill="none" stroke="#1a1a1a" stroke-width="1.5"/>
<line x1="129" y1="548" x2="277.6" y2="548" stroke="#1a1a1a" stroke-width="1.3"/>
<polyline points="113,563 113,571.8 277.6,571.8" fill="none" stroke="#1a1a1a" stroke-width="1.5"/>
<polyline points="285,545 495.3,545 495.3,563.5 487.3,563.5 487.3,571.6 285,571.6" fill="none" stroke="#1a1a1a" stroke-width="1.5"/>
<polyline points="285,548 471.5,548 487.3,563" fill="none" stroke="#1a1a1a" stroke-width="1.3"/>
<polyline points="277.5,539.6 277.5,554 279.9,554.5 274.7,563.7 277.5,563.5 277.5,579.5" fill="none" stroke="#1a1a1a" stroke-width="1.2"/>
<polyline points="285,541.7 285,554.5 287.4,555.6 283.6,561.3 285,561.3 285,577.4" fill="none" stroke="#1a1a1a" stroke-width="1.2"/>
<circle cx="222.4" cy="554.4" r="1.9" fill="#111"/>
<circle cx="302" cy="554.4" r="1.9" fill="#111"/>
<circle cx="380.8" cy="554.4" r="1.9" fill="#111"/>
<circle cx="142" cy="554.4" r="1.9" fill="#111"/>
<circle cx="458.7" cy="554" r="1.9" fill="#111"/>
<rect x="136" y="540.4" width="4" height="4.600000000000023" rx="1.5" fill="none" stroke="#111" stroke-width="1.1"/>
<rect x="461.6" y="540" width="4.0" height="5" rx="1.5" fill="none" stroke="#111" stroke-width="1.1"/>
<rect x="98.4" y="535.6" width="63.2" height="39.4" rx="27" ry="19.7" fill="none" stroke="#1a1a1a" stroke-width="1.1"/>
<circle cx="380.8" cy="554" r="13" fill="none" stroke="#111" stroke-width="1.1"/>
<line x1="142" y1="550" x2="142" y2="618" stroke="#1a1a1a" stroke-width="1.1" stroke-dasharray="10,3,2,3"/>
<line x1="458.7" y1="554" x2="458.7" y2="616" stroke="#1a1a1a" stroke-width="1.1" stroke-dasharray="10,3,2,3"/>
<line x1="101" y1="518.4" x2="143" y2="518.4" stroke="#1a1a1a" stroke-width="1.1"/>
<line x1="103.2" y1="521.6" x2="109.60000000000001" y2="515.1999999999999" stroke="#1a1a1a" stroke-width="1.1"/>
<line x1="136.4" y1="521.6" x2="142.79999999999998" y2="515.1999999999999" stroke="#1a1a1a" stroke-width="1.1"/>
<line x1="106.4" y1="513" x2="106.4" y2="616" stroke="#1a1a1a" stroke-width="1.0"/>
<line x1="139.6" y1="513" x2="139.6" y2="545" stroke="#1a1a1a" stroke-width="1.0"/>
<text transform="translate(121.00,511.00) scale(0.704,1)" x="-7.58 0.00 7.58" y="3.75" font-size="10.90" text-anchor="middle" font-weight="normal" style="stroke:#1a1a1a;stroke-width:0.55px">700</text>
<text transform="translate(174.00,517.00) scale(0.619,1)" x="-4.04 4.04" y="4.00" font-size="11.63" text-anchor="middle" font-weight="normal" style="stroke:#1a1a1a;stroke-width:0.55px">14</text>
<polyline points="184,523 165,523 140,542" fill="none" stroke="#1a1a1a" stroke-width="1.0"/>
<line x1="79" y1="542.4" x2="79" y2="566" stroke="#1a1a1a" stroke-width="1.0"/>
<line x1="76" y1="545" x2="99" y2="545" stroke="#1a1a1a" stroke-width="1.0"/>
<line x1="76" y1="563" x2="98" y2="563" stroke="#1a1a1a" stroke-width="1.0"/>
<line x1="75.8" y1="541.8" x2="82.2" y2="548.2" stroke="#1a1a1a" stroke-width="1.1"/>
<line x1="75.8" y1="559.8" x2="82.2" y2="566.2" stroke="#1a1a1a" stroke-width="1.1"/>
<text transform="translate(71.50,552.50) rotate(-90) scale(0.561,1)" x="-10.10 0.00 10.10" y="5.00" font-size="14.53" text-anchor="middle" font-weight="normal" style="stroke:#1a1a1a;stroke-width:0.55px">400</text>
<text transform="translate(83.00,580.00) scale(0.619,1)" x="0.00" y="4.00" font-size="11.63" text-anchor="middle" font-weight="normal" style="stroke:#1a1a1a;stroke-width:0.55px">3</text>
<polyline points="76,584.4 92,584.4 103,569" fill="none" stroke="#1a1a1a" stroke-width="1.0"/>
<line x1="102" y1="593.6" x2="132" y2="593.6" stroke="#1a1a1a" stroke-width="1.0"/>
<line x1="113" y1="572" x2="113" y2="599" stroke="#1a1a1a" stroke-width="1.0"/>
<line x1="103.2" y1="596.8000000000001" x2="109.60000000000001" y2="590.4" stroke="#1a1a1a" stroke-width="1.1"/>
<line x1="109.8" y1="596.8000000000001" x2="116.2" y2="590.4" stroke="#1a1a1a" stroke-width="1.1"/>
<text transform="translate(125.00,588.00) scale(0.660,1)" x="-7.58 0.00 7.58" y="3.75" font-size="10.90" text-anchor="middle" font-weight="normal" style="stroke:#1a1a1a;stroke-width:0.55px">150</text>
<line x1="101" y1="611" x2="500.7" y2="611" stroke="#1a1a1a" stroke-width="1.1"/>
<line x1="103.2" y1="614.2" x2="109.60000000000001" y2="607.8" stroke="#1a1a1a" stroke-width="1.1"/>
<line x1="138.8" y1="614.2" x2="145.2" y2="607.8" stroke="#1a1a1a" stroke-width="1.1"/>
<line x1="455.5" y1="614.2" x2="461.9" y2="607.8" stroke="#1a1a1a" stroke-width="1.1"/>
<line x1="491.8" y1="614.2" x2="498.2" y2="607.8" stroke="#1a1a1a" stroke-width="1.1"/>
<text transform="translate(124.00,605.00) scale(0.742,1)" x="0.00" y="4.00" font-size="11.63" text-anchor="middle" font-weight="normal" style="stroke:#1a1a1a;stroke-width:0.55px">B</text>
<text transform="translate(271.50,609.80) scale(0.756,1)" x="0" y="0" font-size="13.08" text-anchor="middle" font-weight="normal" style="stroke:#1a1a1a;stroke-width:0.70px">M</text>
<text transform="translate(281.50,609.80) scale(1.191,1)" x="0" y="0" font-size="7.99" text-anchor="middle" font-weight="normal" style="stroke:#1a1a1a;stroke-width:0.70px">x</text>
<text transform="translate(291.00,609.80) scale(0.970,1)" x="0" y="0" font-size="13.08" text-anchor="middle" font-weight="normal" style="stroke:#1a1a1a;stroke-width:0.70px">4</text>
<line x1="461.4" y1="520.4" x2="499.6" y2="520.4" stroke="#1a1a1a" stroke-width="1.1"/>
<line x1="460.40000000000003" y1="523.6" x2="466.8" y2="517.1999999999999" stroke="#1a1a1a" stroke-width="1.1"/>
<line x1="491.8" y1="523.6" x2="498.2" y2="517.1999999999999" stroke="#1a1a1a" stroke-width="1.1"/>
<line x1="495" y1="515" x2="495" y2="545" stroke="#1a1a1a" stroke-width="1.0"/>
<line x1="463.6" y1="516" x2="463.6" y2="540" stroke="#1a1a1a" stroke-width="1.0" stroke-dasharray="4,2"/>
<text transform="translate(480.50,514.70) scale(0.748,1)" x="-7.58 0.00 7.58" y="3.75" font-size="10.90" text-anchor="middle" font-weight="normal" style="stroke:#1a1a1a;stroke-width:0.55px">700</text>
<text transform="translate(437.70,517.00) scale(0.619,1)" x="-4.04 4.04" y="4.00" font-size="11.63" text-anchor="middle" font-weight="normal" style="stroke:#1a1a1a;stroke-width:0.55px">14</text>
<polyline points="426.5,524.9 449,524.9 463.6,539.5" fill="none" stroke="#1a1a1a" stroke-width="1.0"/>
<text transform="translate(400.90,522.50) scale(0.643,1)" x="0.00" y="5.00" font-size="14.53" text-anchor="middle" font-weight="normal" style="stroke:#1a1a1a;stroke-width:0.55px">4</text>
<polyline points="410.7,531 390.5,531 386,542.9" fill="none" stroke="#1a1a1a" stroke-width="1.0"/>
<line x1="522.8" y1="539.5" x2="522.8" y2="575" stroke="#1a1a1a" stroke-width="1.0"/>
<line x1="498.5" y1="545" x2="530" y2="545" stroke="#1a1a1a" stroke-width="1.0"/>
<line x1="496" y1="571" x2="530" y2="571" stroke="#1a1a1a" stroke-width="1.0"/>
<line x1="519.5999999999999" y1="541.8" x2="526.0" y2="548.2" stroke="#1a1a1a" stroke-width="1.1"/>
<line x1="519.5999999999999" y1="567.8" x2="526.0" y2="574.2" stroke="#1a1a1a" stroke-width="1.1"/>
<text transform="translate(514.60,558.00) rotate(-90) scale(0.676,1)" x="-8.38 0.00 8.38" y="4.15" font-size="12.06" text-anchor="middle" font-weight="normal" style="stroke:#1a1a1a;stroke-width:0.55px">600</text>
<line x1="485" y1="594" x2="523" y2="594" stroke="#1a1a1a" stroke-width="1.0"/>
<line x1="487.3" y1="579" x2="487.3" y2="596" stroke="#1a1a1a" stroke-width="1.0"/>
<line x1="495" y1="571" x2="495" y2="616" stroke="#1a1a1a" stroke-width="1.0"/>
<line x1="484.1" y1="597.2" x2="490.5" y2="590.8" stroke="#1a1a1a" stroke-width="1.1"/>
<line x1="491.8" y1="597.2" x2="498.2" y2="590.8" stroke="#1a1a1a" stroke-width="1.1"/>
<text transform="translate(511.00,589.00) scale(0.704,1)" x="-7.58 0.00 7.58" y="3.75" font-size="10.90" text-anchor="middle" font-weight="normal" style="stroke:#1a1a1a;stroke-width:0.55px">150</text>
<text transform="translate(477.00,607.00) scale(0.742,1)" x="0.00" y="4.00" font-size="11.63" text-anchor="middle" font-weight="normal" style="stroke:#1a1a1a;stroke-width:0.55px">B</text>
<line x1="0" y1="169" x2="24" y2="169" stroke="#888" stroke-width="0.8"/></g>
</svg></body></html>
